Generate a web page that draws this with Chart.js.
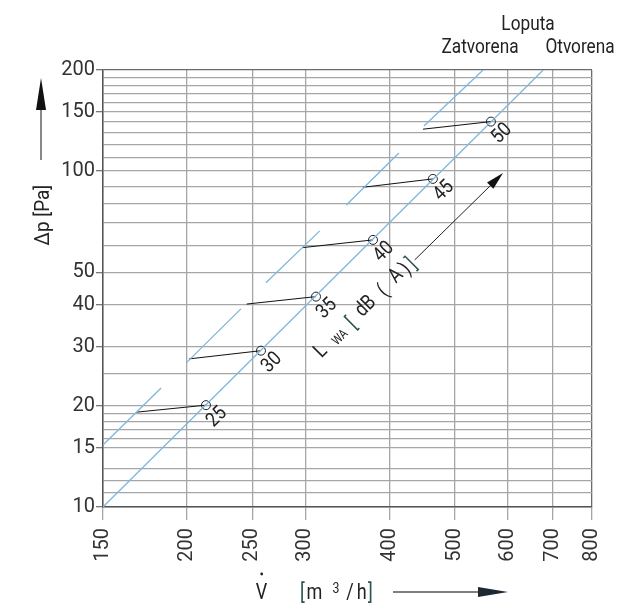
<!DOCTYPE html>
<html>
<head>
<meta charset="utf-8">
<script src="https://cdn.jsdelivr.net/npm/chart.js@4"></script>
<style>
  html, body { margin: 0; padding: 0; background: #fff; }
  canvas { display: block; }
</style>
</head>
<body>
<canvas id="chart" width="617" height="603"></canvas>
<script>
// ── Axis ticks / grid ─────────────────────────────────────
const xTicks  = [150, 200, 250, 300, 400, 500, 600, 700, 800];
const yGrid   = [10, 11, 12, 13, 15, 16, 17, 18, 19, 20, 25, 30, 40, 50, 60, 70, 80, 90,
                 100, 110, 120, 130, 140, 150, 160, 170, 180, 190, 200];
const yLabels = [10, 15, 20, 30, 40, 50, 100, 150, 200];

// ── Damper open (Otvorena) ────────────────────────────────
const openV = [150, 677];
const openP = [10, 200];

// ── Damper closed (Zatvorena), broken line ────────────────
const closedStartV = [150, 200, 262, 345, 450];
const closedStartP = [15.3, 27.0, 46.5, 79.3, 136.3];
const closedEndV   = [183, 240.5, 315, 413, 551];
const closedEndP   = [22.6, 38.9, 66.4, 113.2, 200];

// ── Sound power levels L_WA ───────────────────────────────
const dbLevels = [25, 30, 35, 40, 45, 50];
const pointV   = [213.4, 257.6, 311, 378, 464, 566];
const pointP   = [20.1, 29.2, 42.3, 62.4, 94.8, 140.4];
const linkV    = [168.3, 201.4, 245.3, 297.3, 365.2, 448.6];
const linkP    = [19.16, 27.6, 40.2, 59.2, 89.5, 133.3];

// L_WA arrow + label anchor (data coords)
const lwaArrowV = [436, 590];
const lwaArrowP = [54.4, 98.7];
const lwaAnchor = { v: 317, p: 27.7 };

const FONT   = "Roboto, 'DejaVu Sans', sans-serif";
const NARROW = 0.82;          // horizontal squeeze for the condensed look
const TEXT   = '#222';
const BRACK  = '#2b5450';
const BLUE   = '#7db7df';
const GRID   = '#a6a6a6';

// ── Build series ──────────────────────────────────────────
const openData = openV.map((v, i) => ({ x: v, y: openP[i] }));

const closedData = [];
closedStartV.forEach((v, i) => {
  closedData.push({ x: v, y: closedStartP[i] });
  closedData.push({ x: closedEndV[i], y: closedEndP[i] });
  closedData.push({ x: closedEndV[i], y: null });
});

const linkData = [];
linkV.forEach((v, i) => {
  linkData.push({ x: v, y: linkP[i] });
  linkData.push({ x: pointV[i], y: pointP[i] });
  linkData.push({ x: pointV[i], y: null });
});

const pointData = pointV.map((v, i) => ({ x: v, y: pointP[i] }));

// ── Helpers ───────────────────────────────────────────────
function arrowHead(ctx, x1, y1, x2, y2, len, w, color) {
  const a = Math.atan2(y2 - y1, x2 - x1);
  ctx.save();
  ctx.translate(x2, y2);
  ctx.rotate(a);
  ctx.fillStyle = color;
  ctx.beginPath();
  ctx.moveTo(0, 0);
  ctx.lineTo(-len, -w / 2);
  ctx.lineTo(-len, w / 2);
  ctx.closePath();
  ctx.fill();
  ctx.restore();
}

function line(ctx, x1, y1, x2, y2, color, width) {
  ctx.strokeStyle = color;
  ctx.lineWidth = width;
  ctx.beginPath();
  ctx.moveTo(x1, y1);
  ctx.lineTo(x2, y2);
  ctx.stroke();
}

// text squeezed horizontally, optional rotation
function say(ctx, txt, x, y, size, opts = {}) {
  ctx.save();
  ctx.translate(x, y);
  if (opts.rot) ctx.rotate(opts.rot);
  ctx.scale(opts.sx || NARROW, 1);
  ctx.font = `${size}px ${FONT}`;
  ctx.fillStyle = opts.color || TEXT;
  ctx.textAlign = opts.align || 'center';
  ctx.textBaseline = opts.base || 'alphabetic';
  ctx.fillText(txt, 0, 0);
  ctx.restore();
}

const bgPlugin = {
  id: 'bg',
  beforeDraw(chart) {
    const c = chart.ctx;
    c.save();
    c.fillStyle = '#fff';
    c.fillRect(0, 0, chart.width, chart.height);
    c.restore();
  },
};

const notesPlugin = {
  id: 'notes',
  afterDraw(chart) {
    const c = chart.ctx;
    const xs = chart.scales.x, ys = chart.scales.y;
    c.save();

    // header
    say(c, 'Loputa', 528, 30, 21);
    say(c, 'Zatvorena', 480, 53, 21);
    say(c, 'Otvorena', 580, 53, 21);

    // dB labels next to circles
    dbLevels.forEach((db, i) => {
      const px = xs.getPixelForValue(pointV[i]);
      const py = ys.getPixelForValue(pointP[i]);
      say(c, String(db), px + 11, py + 12, 20, { rot: -Math.PI / 4, base: 'middle', sx: 0.88 });
    });

    // L_WA [dB ( A )]
    const ox = xs.getPixelForValue(lwaAnchor.v);
    const oy = ys.getPixelForValue(lwaAnchor.p);
    c.save();
    c.translate(ox, oy);
    c.rotate(-Math.PI / 4);
    const parts = [
      { t: 'L',  s: 4.5, size: 21, dy: 0 },
      { t: 'WA', s: 28,  size: 13, dy: 2 },
      { t: '[',  s: 46,  size: 21, dy: 3, col: BRACK },
      { t: 'dB', s: 68,  size: 21, dy: 0 },
      { t: '(',  s: 91,  size: 21, dy: 2 },
      { t: 'A',  s: 111, size: 21, dy: 0 },
      { t: ')',  s: 123, size: 21, dy: 2 },
      { t: ']',  s: 131, size: 21, dy: 3, col: BRACK },
    ];
    parts.forEach(p => say(c, p.t, p.s, p.dy, p.size, { color: p.col }));
    c.restore();

    // L_WA arrow
    const ax1 = xs.getPixelForValue(lwaArrowV[0]), ay1 = ys.getPixelForValue(lwaArrowP[0]);
    const ax2 = xs.getPixelForValue(lwaArrowV[1]), ay2 = ys.getPixelForValue(lwaArrowP[1]);
    line(c, ax1, ay1, ax2 - 8, ay2 + 8, '#222', 1);
    arrowHead(c, ax1, ay1, ax2, ay2, 18, 9, '#111');

    // y axis title + arrow
    say(c, 'Δp [Pa]', 44, 215, 21, { rot: -Math.PI / 2, base: 'middle', sx: 0.9 });
    line(c, 41, 160, 41, 100, '#555', 1.4);
    arrowHead(c, 41, 160, 41, 78, 32, 10, '#111');

    // x axis title + arrow
    say(c, 'V', 261.5, 599, 22);
    c.fillStyle = TEXT;
    c.beginPath();
    c.arc(261.7, 574, 1.4, 0, Math.PI * 2);
    c.fill();
    say(c, '[', 302.5, 600, 22, { color: BRACK });
    say(c, 'm', 314.5, 599, 22);
    say(c, '3', 336, 593, 15);
    say(c, '/', 350, 599, 22);
    say(c, 'h', 361.7, 599, 22);
    say(c, ']', 370.5, 600, 22, { color: BRACK });
    line(c, 393, 592, 485, 592, '#555', 1.4);
    arrowHead(c, 393, 592, 508, 592, 30, 10, '#1c2833');

    c.restore();
  },
};

// ── Chart ─────────────────────────────────────────────────
new Chart(document.getElementById('chart'), {
  type: 'scatter',
  data: {
    datasets: [
      { data: openData,   showLine: true, borderColor: BLUE, borderWidth: 1.3, pointRadius: 0 },
      { data: closedData, showLine: true, borderColor: BLUE, borderWidth: 1.3, pointRadius: 0, spanGaps: false },
      { data: linkData,   showLine: true, borderColor: '#111', borderWidth: 1, pointRadius: 0, spanGaps: false },
      { data: pointData,  showLine: false, pointRadius: 4.5, pointBorderWidth: 1,
        pointBorderColor: '#222', pointBackgroundColor: 'rgba(0,0,0,0)' },
    ],
  },
  options: {
    responsive: false,
    devicePixelRatio: 1,
    animation: false,
    layout: { padding: { top: 70, right: 25, left: 0, bottom: 0 } },
    plugins: { legend: { display: false }, tooltip: { enabled: false } },
    scales: {
      x: {
        type: 'logarithmic', min: 150, max: 800,
        afterBuildTicks: s => { s.ticks = xTicks.map(v => ({ value: v })); },
        afterFit: s => { s.height = 96; s.paddingLeft = 0; s.paddingRight = 0; },
        grid: {
          color: c => (c.tick && c.tick.value === 800 ? '#6a6a6a' : GRID),
          lineWidth: 1.3, tickLength: 13, tickColor: GRID,
        },
        border: { color: '#555', width: 1.5 },
        ticks: {
          autoSkip: false, maxRotation: 90, minRotation: 90, padding: 8,
          color: '#333', font: { family: FONT, size: 20 },
          callback: v => String(v),
        },
      },
      y: {
        type: 'logarithmic', min: 10, max: 200,
        afterBuildTicks: s => { s.ticks = yGrid.map(v => ({ value: v })); },
        afterFit: s => { s.width = 103; s.paddingTop = 0; s.paddingBottom = 0; },
        grid: {
          color: c => (c.tick && c.tick.value === 200 ? '#6a6a6a' : GRID),
          lineWidth: 1.3, tickLength: 7,
          tickColor: c => (c.tick && yLabels.includes(c.tick.value) ? '#777' : 'rgba(0,0,0,0)'),
        },
        border: { color: '#555', width: 1.5 },
        ticks: {
          autoSkip: false, padding: 1,
          color: '#333', font: { family: FONT, size: 20 },
          callback: v => (yLabels.includes(v) ? String(v) : ''),
        },
      },
    },
  },
  plugins: [bgPlugin, notesPlugin],
});
</script>
</body>
</html>
